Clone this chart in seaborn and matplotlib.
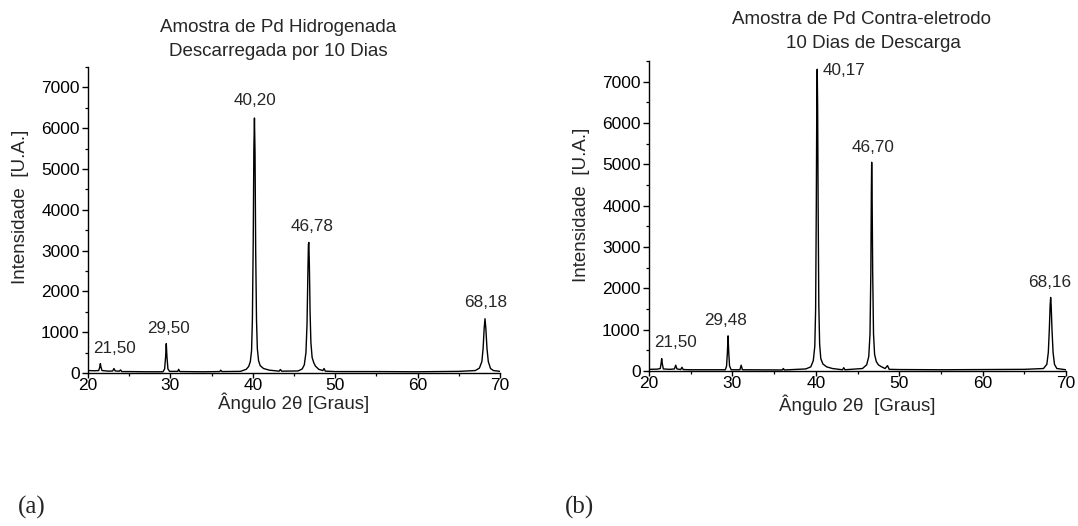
import matplotlib
matplotlib.use("Agg")
import matplotlib.pyplot as plt
import seaborn as sns
import pandas as pd
from matplotlib.ticker import MultipleLocator

sns.set_style("ticks")
plt.rcParams['font.family'] = ['Liberation Sans', 'DejaVu Sans']

# ---- data ----
# (a) Amostra de Pd Hidrogenada
angle_a = [20.0, 20.8, 21.3, 21.42, 21.5, 21.58, 21.7, 22.5, 23.0, 23.15, 23.3, 23.8, 23.95,
           24.1, 25.0, 27.0, 29.1, 29.3, 29.42, 29.5, 29.58, 29.7, 29.9, 30.9, 31.0, 31.15,
           34.0, 36.0, 36.1, 36.25, 38.5, 39.2, 39.5, 39.7, 39.85, 39.95, 40.05, 40.13,
           40.2, 40.27, 40.35, 40.45, 40.55, 40.7, 40.9, 41.3, 42.0, 43.2, 43.35, 43.5,
           45.5, 46.0, 46.25, 46.45, 46.58, 46.68, 46.75, 46.8, 46.87, 46.95, 47.05, 47.2,
           47.4, 47.6, 48.0, 48.5, 48.65, 48.8, 50.0, 55.0, 60.0, 65.0, 67.0, 67.5, 67.8,
           67.95, 68.08, 68.18, 68.28, 68.42, 68.58, 68.85, 69.2, 70.0]
inten_a = [60, 55, 60, 140, 230, 140, 60, 45, 50, 110, 50, 45, 75,
           35, 35, 30, 30, 100, 400, 720, 400, 100, 40, 40, 90, 35,
           30, 35, 70, 35, 40, 90, 160, 280, 550, 1300, 3200, 5500,
           6250, 5400, 3000, 1300, 600, 300, 180, 110, 70, 45, 85, 45,
           50, 100, 200, 500, 1200, 2400, 3150, 3200, 2600, 1500, 750, 380,
           250, 170, 90, 60, 110, 45, 35, 35, 30, 40, 60, 120, 280,
           600, 1100, 1330, 1100, 600, 280, 110, 60, 40]

# (b) Amostra de Pd Contra-eletrodo
angle_b = [20.0, 21.0, 21.35, 21.45, 21.52, 21.6, 21.72, 22.5, 23.05, 23.2, 23.35, 23.8,
           23.95, 24.1, 25.0, 29.15, 29.3, 29.4, 29.48, 29.56, 29.66, 29.85, 30.9, 31.05,
           31.2, 36.0, 36.1, 36.25, 38.8, 39.4, 39.7, 39.88, 39.98, 40.06, 40.12, 40.17,
           40.22, 40.28, 40.36, 40.46, 40.6, 40.85, 41.3, 42.0, 43.2, 43.35, 43.5, 45.6,
           46.1, 46.35, 46.5, 46.6, 46.66, 46.7, 46.75, 46.82, 46.92, 47.05, 47.25, 47.5,
           47.8, 48.3, 48.6, 48.8, 50.0, 55.0, 60.0, 65.0, 67.3, 67.7, 67.88, 68.0, 68.1,
           68.16, 68.22, 68.32, 68.45, 68.62, 68.9, 70.0]
inten_b = [40, 45, 60, 180, 300, 170, 50, 40, 50, 140, 50, 35,
           90, 35, 30, 30, 120, 450, 850, 450, 120, 30, 30, 140,
           30, 25, 60, 25, 50, 100, 250, 600, 1500, 4000, 6500, 7300,
           6400, 4000, 1600, 650, 300, 170, 100, 60, 30, 80, 30, 60,
           150, 350, 900, 2400, 4300, 5050, 4300, 2400, 900, 400, 230, 150,
           110, 60, 130, 40, 35, 30, 35, 40, 60, 160, 450, 1000, 1600,
           1780, 1600, 1000, 450, 160, 60, 30]

labels_a = ["21,50", "29,50", "40,20", "46,78", "68,18"]
label_pos_a = [(23.2, 610), (29.8, 1100), (40.3, 6670), (47.2, 3600), (68.3, 1740)]
labels_b = ["21,50", "29,48", "40,17", "46,70", "68,16"]
label_pos_b = [(23.2, 700), (29.2, 1210), (40.85, 7270), (46.9, 5410), (68.1, 2150)]
label_ha_b = ["center", "center", "left", "center", "center"]

titles = [["Amostra de Pd Hidrogenada", "Descarregada por 10 Dias"],
          ["Amostra de Pd Contra-eletrodo", "10 Dias de Descarga"]]
xlabels = ["Ângulo 2θ [Graus]", "Ângulo 2θ  [Graus]"]
ylabel = "Intensidade  [U.A.]"
panel_tags = ["(a)", "(b)"]

df_a = pd.DataFrame({"angle": angle_a, "inten": inten_a})
df_b = pd.DataFrame({"angle": angle_b, "inten": inten_b})

W, H = 1078, 526
fig = plt.figure(figsize=(W / 100, H / 100), dpi=100)

def px_axes(x0, y0, x1, y1):
    return fig.add_axes([x0 / W, 1 - y1 / H, (x1 - x0) / W, (y1 - y0) / H])

ax_a = px_axes(88, 67, 500, 373)
ax_b = px_axes(649, 61, 1066, 371)

fs_tick = 12.5
fs_peak = 12.3
fs_lab = 13.5
fs_title = 13.5
setups = [
    (ax_a, df_a, labels_a, label_pos_a, ["center"] * 5, xlabels[0], (-0.165, 0.542), -0.098),
    (ax_b, df_b, labels_b, label_pos_b, label_ha_b, xlabels[1], (-0.161, 0.535), -0.108),
]
for ax, df, labs, pos, has, xl, ylc, xly in setups:
    sns.lineplot(data=df, x="angle", y="inten", ax=ax, color="black", linewidth=1.0,
                 sort=False, estimator=None)
    ax.set_xlim(20, 70)
    ax.set_ylim(0, 7500)
    ax.xaxis.set_major_locator(MultipleLocator(10))
    ax.xaxis.set_minor_locator(MultipleLocator(5))
    ax.yaxis.set_major_locator(MultipleLocator(1000))
    ax.yaxis.set_minor_locator(MultipleLocator(500))
    ax.tick_params(which="major", direction="out", length=4, width=1, labelsize=fs_tick,
                   colors="black", pad=2)
    ax.tick_params(axis="x", which="major", length=3.5, pad=0)
    ax.tick_params(which="minor", direction="out", length=2.3, width=0.9, colors="black")
    for s in ["top", "right"]:
        ax.spines[s].set_visible(False)
    for s in ["left", "bottom"]:
        ax.spines[s].set_linewidth(1.0)
        ax.spines[s].set_color("black")
    ax.set_xlabel(xl, fontsize=fs_lab)
    ax.set_ylabel(ylabel, fontsize=fs_lab)
    ax.xaxis.label.set_va("center")
    ax.xaxis.set_label_coords(0.5, xly)
    ax.yaxis.label.set_va("center")
    ax.yaxis.set_label_coords(*ylc)
    for t, (x, y), ha in zip(labs, pos, has):
        ax.text(x, y, t, ha=ha, va="center", fontsize=fs_peak)

# titles
fig.text(278 / W, 1 - 28 / H, titles[0][0], ha="center", va="center", fontsize=fs_title)
fig.text(278 / W, 1 - 51 / H, titles[0][1], ha="center", va="center", fontsize=fs_title)
fig.text(861 / W, 1 - 19 / H, titles[1][0], ha="center", va="center", fontsize=fs_title)
fig.text(873 / W, 1 - 44 / H, titles[1][1], ha="center", va="center", fontsize=fs_title)

# panel tags
fig.text(18 / W, 1 - 507 / H, panel_tags[0], ha="left", va="center", fontsize=18,
         family=["Liberation Serif", "DejaVu Serif"])
fig.text(565 / W, 1 - 507 / H, panel_tags[1], ha="left", va="center", fontsize=18,
         family=["Liberation Serif", "DejaVu Serif"])

fig.savefig("out.png", dpi=100, facecolor="white")
